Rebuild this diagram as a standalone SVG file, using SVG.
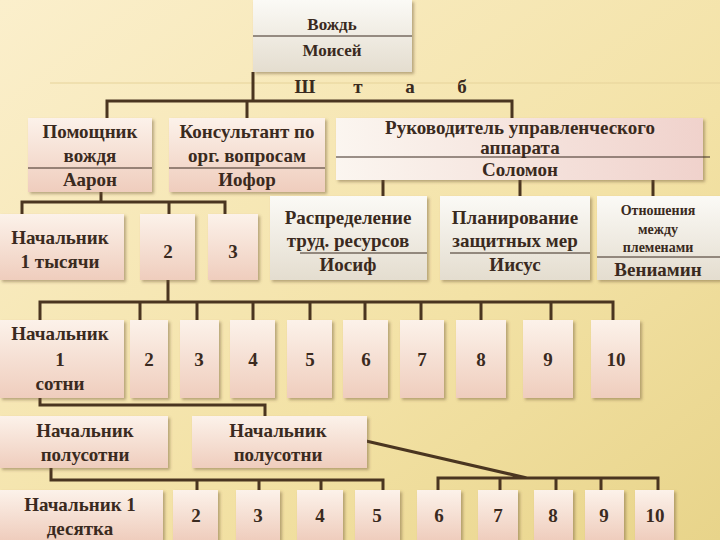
<svg xmlns="http://www.w3.org/2000/svg" width="720" height="540" viewBox="0 0 720 540">
<defs>
<linearGradient id="bg" x1="0" y1="0" x2="1" y2="1"><stop offset="0" stop-color="#fbefcc"/><stop offset="0.6" stop-color="#f3e2a6"/><stop offset="1" stop-color="#e8d48a"/></linearGradient>
<linearGradient id="pk" x1="0" y1="0" x2="0" y2="1"><stop offset="0" stop-color="#fcf2ea"/><stop offset="1" stop-color="#efcdbd"/></linearGradient>
<linearGradient id="gr" x1="0" y1="0" x2="0" y2="1"><stop offset="0" stop-color="#fbfaf6"/><stop offset="1" stop-color="#e4ddcf"/></linearGradient>
<linearGradient id="rk" x1="0" y1="0" x2="1" y2="0"><stop offset="0" stop-color="#fbf6f0"/><stop offset="1" stop-color="#f0d2cc"/></linearGradient>
<filter id="sh" x="-10%" y="-10%" width="130%" height="130%"><feDropShadow dx="2" dy="2" stdDeviation="1.5" flood-color="#6b5530" flood-opacity="0.45"/></filter>
</defs>
<style>
.b{fill:url(#pk);filter:url(#sh)}
.g{fill:url(#gr);filter:url(#sh)}
text{font-family:'Liberation Serif','DejaVu Serif',serif;font-weight:bold;font-size:19px;fill:#3a2a20;text-anchor:middle}
.s{font-size:14px}
.c{stroke:#4a3520;stroke-width:3;fill:none}
.d{stroke:#3a2a20;stroke-width:1}
</style>
<rect width="720" height="540" fill="url(#bg)"/>
<line x1="50" y1="83" x2="720" y2="83" stroke="#e6d39a" stroke-width="1"/>
<g id="connectors">
<path class="c" d="M253 72V101M107 118V101H512V118M247 101V118"/>
<path class="c" d="M101 192V202M22 214V202H225V214M169 202V214"/>
<path class="c" d="M383 180V196M520 180V196M653 180V196"/>
<path class="c" d="M168 280V302M40 320V302H613V320M140 302V320M197 302V320M253 302V320M310 302V320M365 302V320M421 302V320M481 302V320M551 302V320"/>
<path class="c" d="M40 398V405H265V416"/>
<path class="c" d="M51 468V480H383V490M197 480V490M259 480V490M321 480V490"/>
<path class="c" d="M366 441L527 478M438 490V478H658V490M500 478V490M556 478V490M601 478V490"/>
</g>
<g font-family="Liberation Serif, serif">
<g id="vozhd"><rect class="g" x="253" y="0" width="159" height="72"/><line class="d" x1="253" y1="36" x2="412" y2="36"/><text x="332" y="30" style="font-size:17px">Вождь</text><text x="332" y="56" style="font-size:17px">Моисей</text></g>
<g id="shtab"><text x="305" y="93">Ш</text><text x="358" y="93">т</text><text x="410" y="93">а</text><text x="462" y="93">б</text></g>
<g id="pomoshchnik"><rect class="b" x="28" y="118" width="124" height="74"/><line class="d" x1="28" y1="168" x2="152" y2="168"/><text x="90" y="138">Помощник</text><text x="90" y="162">вождя</text><text x="90" y="186">Аарон</text></g>
<g id="konsultant"><rect class="b" x="169" y="118" width="156" height="74"/><line class="d" x1="169" y1="168" x2="325" y2="168"/><text x="247" y="138">Консультант по</text><text x="247" y="162">орг. вопросам</text><text x="247" y="186">Иофор</text></g>
<g id="rukovoditel"><rect fill="url(#rk)" filter="url(#sh)" x="336" y="118" width="367" height="62"/><line class="d" x1="336" y1="157" x2="710" y2="157"/><text x="520" y="134">Руководитель управленческого</text><text x="520" y="154">аппарата</text><text x="520" y="176">Соломон</text></g>
<g id="tysyacha"><rect class="b" x="0" y="214" width="124" height="66"/><text x="60" y="244">Начальник</text><text x="60" y="268">1 тысячи</text></g>
<g id="t2"><rect class="b" x="140" y="214" width="55" height="66"/><text x="168" y="258">2</text></g>
<g id="t3"><rect class="b" x="208" y="214" width="50" height="66"/><text x="233" y="258">3</text></g>
<g id="raspredelenie"><rect class="g" x="270" y="196" width="157" height="84"/><line class="d" x1="300" y1="253" x2="427" y2="253"/><text x="348" y="224">Распределение</text><text x="348" y="247">труд. ресурсов</text><text x="348" y="271">Иосиф</text></g>
<g id="planirovanie"><rect class="g" x="440" y="196" width="150" height="84"/><line class="d" x1="450" y1="253" x2="590" y2="253"/><text x="515" y="224">Планирование</text><text x="515" y="247">защитных мер</text><text x="515" y="271">Иисус</text></g>
<g id="otnosheniya"><rect class="g" x="597" y="196" width="123" height="84"/><line class="d" x1="597" y1="257" x2="720" y2="257"/><text class="s" x="658" y="215">Отношения</text><text class="s" x="658" y="234">между</text><text class="s" x="658" y="252">племенами</text><text x="658" y="276">Вениамин</text></g>
<g id="sotnya"><rect class="b" x="0" y="320" width="124" height="78"/><text x="60" y="340">Начальник</text><text x="60" y="366">1</text><text x="60" y="390">сотни</text></g>
<g id="s2"><rect class="b" x="130" y="320" width="38" height="78"/><text x="149" y="366">2</text></g>
<g id="s3"><rect class="b" x="180" y="320" width="39" height="78"/><text x="199" y="366">3</text></g>
<g id="s4"><rect class="b" x="230" y="320" width="45" height="78"/><text x="253" y="366">4</text></g>
<g id="s5"><rect class="b" x="287" y="320" width="45" height="78"/><text x="310" y="366">5</text></g>
<g id="s6"><rect class="b" x="343" y="320" width="45" height="78"/><text x="366" y="366">6</text></g>
<g id="s7"><rect class="b" x="400" y="320" width="44" height="78"/><text x="422" y="366">7</text></g>
<g id="s8"><rect class="b" x="456" y="320" width="50" height="78"/><text x="481" y="366">8</text></g>
<g id="s9"><rect class="b" x="523" y="320" width="50" height="78"/><text x="548" y="366">9</text></g>
<g id="s10"><rect class="b" x="591" y="320" width="49" height="78"/><text x="616" y="366">10</text></g>
<g id="polusotnya1"><rect class="b" x="0" y="416" width="168" height="52"/><text x="85" y="437">Начальник</text><text x="85" y="461">полусотни</text></g>
<g id="polusotnya2"><rect class="b" x="192" y="416" width="175" height="52"/><text x="278" y="437">Начальник</text><text x="278" y="461">полусотни</text></g>
<g id="desyatok"><rect class="b" x="0" y="490" width="163" height="50"/><text x="80" y="511">Начальник 1</text><text x="80" y="535">десятка</text></g>
<g id="d2"><rect class="b" x="173" y="490" width="45" height="50"/><text x="196" y="522">2</text></g>
<g id="d3"><rect class="b" x="236" y="490" width="44" height="50"/><text x="258" y="522">3</text></g>
<g id="d4"><rect class="b" x="297" y="490" width="46" height="50"/><text x="320" y="522">4</text></g>
<g id="d5"><rect class="b" x="355" y="490" width="45" height="50"/><text x="377" y="522">5</text></g>
<g id="d6"><rect class="b" x="417" y="490" width="44" height="50"/><text x="439" y="522">6</text></g>
<g id="d7"><rect class="b" x="478" y="490" width="40" height="50"/><text x="498" y="522">7</text></g>
<g id="d8"><rect class="b" x="534" y="490" width="39" height="50"/><text x="553" y="522">8</text></g>
<g id="d9"><rect class="b" x="585" y="490" width="39" height="50"/><text x="604" y="522">9</text></g>
<g id="d10"><rect class="b" x="635" y="490" width="39" height="50"/><text x="655" y="522">10</text></g>
</g>
</svg>
